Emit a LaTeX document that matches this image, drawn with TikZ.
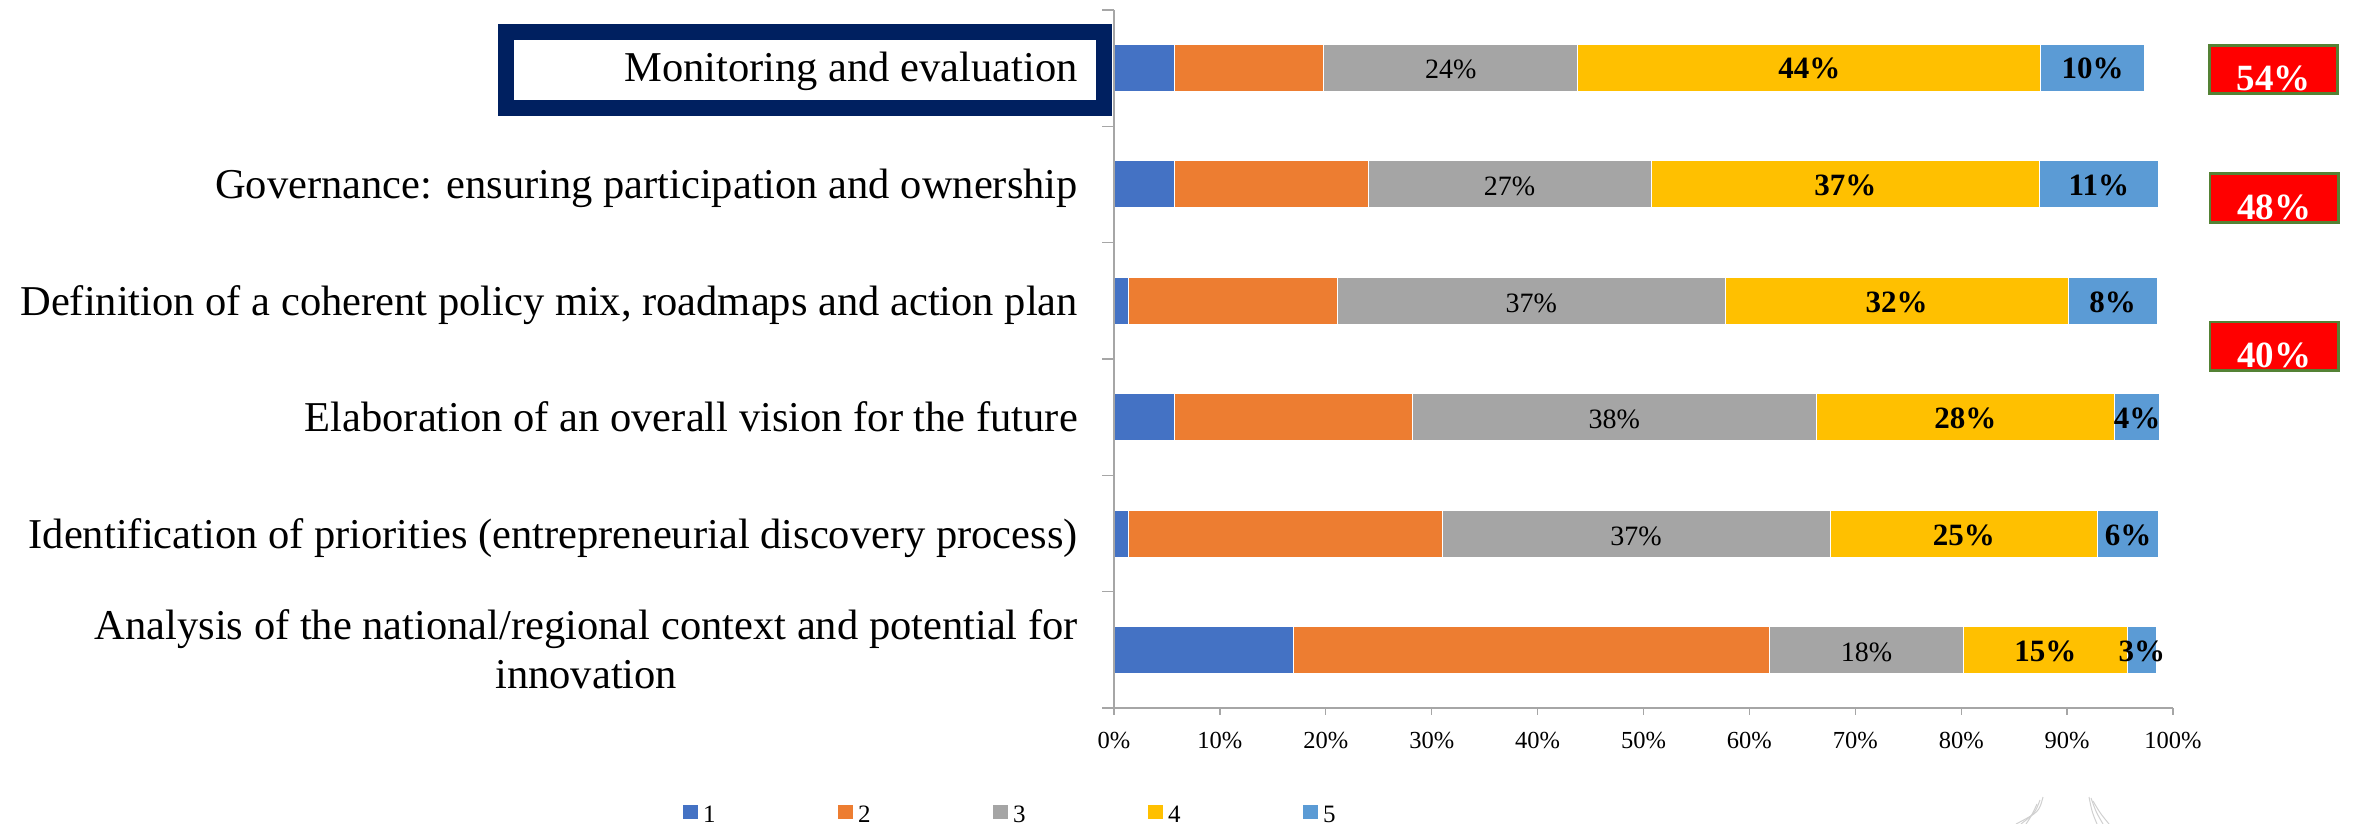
\documentclass[tikz,border=0pt]{standalone}
\usepackage{fontspec}
\setmainfont{Liberation Serif}
\definecolor{cA}{HTML}{4472C4}
\definecolor{cB}{HTML}{ED7D31}
\definecolor{cC}{HTML}{A5A5A5}
\definecolor{cD}{HTML}{FFC000}
\definecolor{cE}{HTML}{5B9BD5}
\definecolor{axisgray}{HTML}{A6A6A6}
\definecolor{navy}{HTML}{002060}
\definecolor{boxgreen}{HTML}{548235}
\definecolor{logogray}{HTML}{D0D0D0}
\begin{document}
\begin{tikzpicture}[x=1pt,y=-1pt,
  seg/.style={draw=white, line width=0.8},
  cat/.style={anchor=base east, inner sep=0, font=\fontsize{42.5}{49}\selectfont},
  vN/.style={anchor=base, inner sep=0, font=\fontsize{28}{30}\selectfont},
  vB/.style={anchor=base, inner sep=0, font=\fontsize{31}{33}\selectfont\bfseries},
  ticklbl/.style={anchor=base, inner sep=0, font=\fontsize{24.5}{26}\selectfont},
  redbox/.style={draw=boxgreen, line width=2.7, fill=red, minimum width=128.3, minimum height=48.3, inner sep=0},
  redtxt/.style={anchor=base, inner sep=0, text=white, font=\fontsize{37}{40}\selectfont\bfseries},
  legsq/.style={minimum width=15, minimum height=14, inner sep=0},
  legtxt/.style={anchor=base west, inner sep=0, font=\fontsize{25}{27}\selectfont},
  axisline/.style={draw=axisgray, line width=1.3}]
\useasboundingbox (0,0) rectangle (2359,824);
\fill[white] (0,0) rectangle (2359,824);

% stacked bars
\foreach \i/\yc/\pa/\pb/\pc/\pd/\pe/\lg/\ly/\lb in {
 1/67.5/5.7/14.1/24.0/43.7/9.8/24/44/10,
 2/184/5.7/18.3/26.7/36.7/11.2/27/37/11,
 3/300.5/1.4/19.7/36.6/32.4/8.4/37/32/8,
 4/417/5.7/22.5/38.1/28.2/4.2/38/28/4,
 5/533.5/1.4/29.6/36.6/25.3/5.7/37/25/6,
 6/650/16.9/45.0/18.3/15.5/2.7/18/15/3}{
  \pgfmathsetmacro\xa{1114}
  \pgfmathsetmacro\xb{\xa+10.59*\pa}
  \pgfmathsetmacro\xc{\xb+10.59*\pb}
  \pgfmathsetmacro\xd{\xc+10.59*\pc}
  \pgfmathsetmacro\xe{\xd+10.59*\pd}
  \pgfmathsetmacro\xf{\xe+10.59*\pe}
  \filldraw[seg, fill=cA] (\xa,\yc-23.5) rectangle (\xb,\yc+23.5);
  \filldraw[seg, fill=cB] (\xb,\yc-23.5) rectangle (\xc,\yc+23.5);
  \filldraw[seg, fill=cC] (\xc,\yc-23.5) rectangle (\xd,\yc+23.5);
  \filldraw[seg, fill=cD] (\xd,\yc-23.5) rectangle (\xe,\yc+23.5);
  \filldraw[seg, fill=cE] (\xe,\yc-23.5) rectangle (\xf,\yc+23.5);
  \node[vN] (g\i) at ({(\xc+\xd)/2},\yc+11.5) {\lg\%};
  \node[vB] (y\i) at ({(\xd+\xe)/2},\yc+11.5) {\ly\%};
  \node[vB] (b\i) at ({(\xe+\xf)/2},\yc+11.5) {\lb\%};
}

% axes
\draw[axisline] (1114,10) -- (1114,708);
\draw[axisline] (1102,708) -- (2173,708);
\foreach \k in {0,...,6}{
  \draw[axisline] (1102,{10+116.33*\k}) -- (1114,{10+116.33*\k});
}
\foreach \k in {0,...,10}{
  \pgfmathtruncatemacro\pv{10*\k}
  \draw[axisline] ({1114+105.9*\k},708) -- ({1114+105.9*\k},715);
  \node[ticklbl] (t\k) at ({1114+105.9*\k},748) {\pv\%};
}

% category labels
\node[draw=navy, line width=16, minimum width=598, minimum height=76, inner sep=0] (mbox) at (805,70) {};
\node[cat] (c1) at (1078,82) {Monitoring and evaluation};
\node[cat] (c2) at (1078,198.5) {Governance: ensuring participation and ownership};
\node[cat] (c3) at (1078,315) {Definition of a coherent policy mix, roadmaps and action plan};
\node[cat] (c4) at (1078,431.5) {Elaboration of an overall vision for the future};
\node[cat] (c5) at (1078,548) {Identification of priorities (entrepreneurial discovery process)};
\node[cat, anchor=east, align=center] (c6) at (1078,649.5) {Analysis of the national/regional context and potential for\\innovation};

% red summary boxes
\node[redbox] (r1) at (2273.5,69.5) {};
\node[redtxt] (rt1) at (2273.5,91) {54\%};
\node[redbox] (r2) at (2274,198) {};
\node[redtxt] (rt2) at (2274,219) {48\%};
\node[redbox] (r3) at (2274,346) {};
\node[redtxt] (rt3) at (2274,367) {40\%};

% legend
\foreach \k/\c in {1/cA,2/cB,3/cC,4/cD,5/cE}{
  \node[legsq, fill=\c] (ls\k) at ({690.5+155*(\k-1)},812) {};
  \node[legtxt] (lt\k) at ({703+155*(\k-1)},822) {\k};
}

% faint logo fragment
\draw[logogray, line width=1] (2043,797) .. controls (2039,812) .. (2016,824);
\draw[logogray, line width=1] (2040,800) .. controls (2035,813) .. (2021,824);
\draw[logogray, line width=1] (2037,804) .. controls (2032,815) .. (2026,824);
\draw[logogray, line width=1] (2089,797) .. controls (2092,812) .. (2097,824);
\draw[logogray, line width=1] (2091,798) .. controls (2096,812) .. (2103,824);
\draw[logogray, line width=1] (2093,801) .. controls (2100,813) .. (2109,824);
\end{tikzpicture}
\end{document}
